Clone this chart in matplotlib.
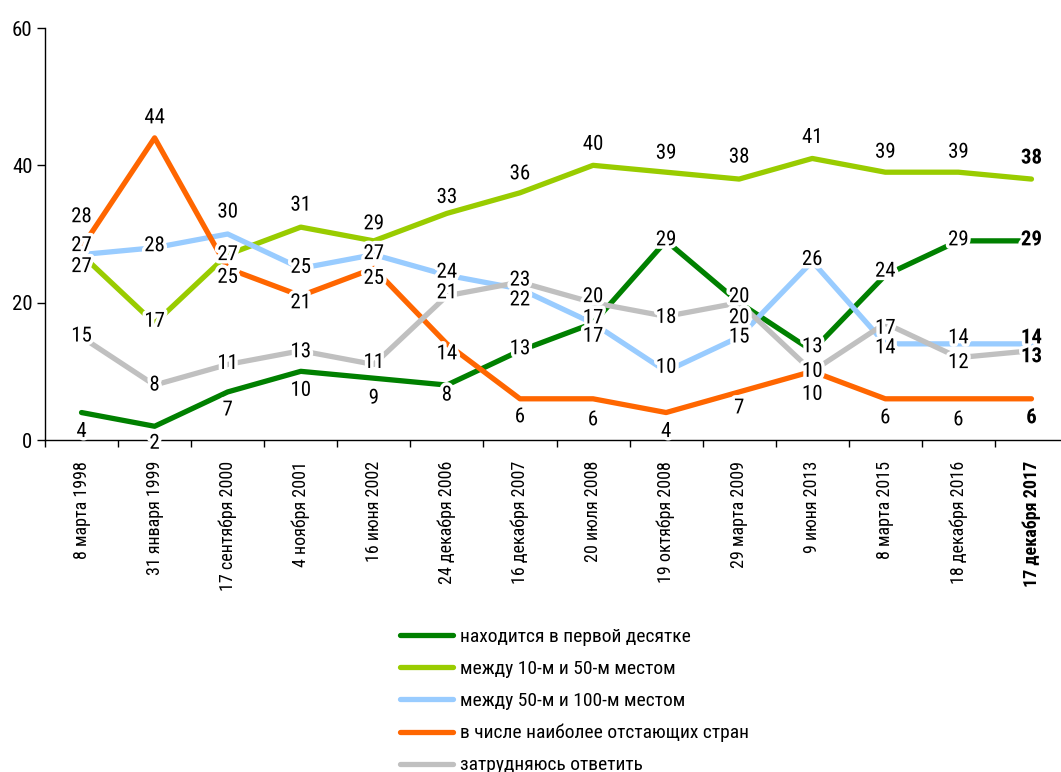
import matplotlib
matplotlib.use("Agg")
import matplotlib.pyplot as plt
import matplotlib.patheffects as pe
import numpy as np

NARROW = ['Liberation Sans Narrow', 'Roboto Condensed', 'Roboto', 'DejaVu Sans']

# survey dates
dates = ["8 марта 1998", "31 января 1999", "17 сентября 2000", "4 ноября 2001",
         "16 июня 2002", "24 декабря 2006", "16 декабря 2007", "20 июля 2008",
         "19 октября 2008", "29 марта 2009", "9 июня 2013", "8 марта 2015",
         "18 декабря 2016", "17 декабря 2017"]

top10 = [4, 2, 7, 10, 9, 8, 13, 17, 29, 20, 13, 24, 29, 29]
top10_50 = [27, 17, 27, 31, 29, 33, 36, 40, 39, 38, 41, 39, 39, 38]
top50_100 = [27, 28, 30, 25, 27, 24, 22, 17, 10, 15, 26, 14, 14, 14]
lagging = [28, 44, 25, 21, 25, 14, 6, 6, 4, 7, 10, 6, 6, 6]
unsure = [15, 8, 11, 13, 11, 21, 23, 20, 18, 20, 10, 17, 12, 13]

names = ["находится в первой десятке", "между 10-м и 50-м местом",
         "между 50-м и 100-м местом", "в числе наиболее отстающих стран",
         "затрудняюсь ответить"]
colors = ["#008000", "#99CC00", "#99CCFF", "#FF6600", "#C0C0C0"]

# vertical label offsets in pixels (positive = up)
offsets = [
    [-19, -17, -18, -19, -20, -10, 2, 5, 1, 6, 4, 4, 1, 1],
    [-12, 2, 0, 22, 17, 16, 19, 21, 19, 22, 21, 20, 20, 21],
    [9, 2, 22, 1, 1, 3, -11, -13, 4, 0, 2, -4, 6, 6],
    [31, 20, -9, -7, -10, -10, -18, -21, -19, -16, -23, -19, -21, -19],
    [1, 0, 1, -1, 2, 3, 2, 6, -1, -15, 0, -5, -5, -6],
]

series = [top10, top10_50, top50_100, lagging, unsure]

fig = plt.figure(figsize=(10.61, 7.72), dpi=100)
ax = fig.add_axes([45 / 1061, 332 / 772, 1023 / 1061, 412 / 772])

x = np.arange(len(dates))
handles = []
for vals, c, name in zip(series, colors, names):
    h, = ax.plot(x, vals, color=c, lw=3.8, solid_capstyle='round',
                 solid_joinstyle='round', label=name)
    handles.append(h)

halo = [pe.withStroke(linewidth=5, foreground='white')]
for vals, offs in zip(series, offsets):
    for i, (v, o) in enumerate(zip(vals, offs)):
        ax.annotate(str(v), (x[i], v), xytext=(0, o), textcoords='offset pixels',
                    ha='center', va='center', fontsize=15, family=NARROW,
                    fontweight='bold' if i == len(vals) - 1 else 'normal',
                    path_effects=halo, zorder=5, annotation_clip=False)

ax.set_xlim(-0.5, len(dates) - 0.5)
ax.set_ylim(0, 60)
ax.set_yticks([0, 20, 40, 60])
for lab in ax.get_yticklabels():
    lab.set_family(NARROW)
    lab.set_fontsize(15)
ax.tick_params(axis='y', length=6, width=1, pad=3)

ax.set_xticks(x)
ax.set_xticklabels(dates, rotation=90, fontsize=13, family=NARROW,
                   va='top', ha='center')
ax.get_xticklabels()[-1].set_fontweight('bold')
ax.set_xticks(np.arange(len(dates) + 1) - 0.5, minor=True)
ax.tick_params(axis='x', which='major', length=0, pad=15)
ax.tick_params(axis='x', which='minor', length=5, width=1)

for s in ['top', 'right']:
    ax.spines[s].set_visible(False)
for s in ['left', 'bottom']:
    ax.spines[s].set_linewidth(1)

fig.legend(handles=handles, loc='upper left', bbox_to_anchor=(400 / 1061, 144 / 772),
           frameon=False, prop={'family': NARROW, 'size': 14},
           borderpad=0, borderaxespad=0, handlelength=2.7, handletextpad=0.4,
           labelspacing=0.72)

fig.savefig("out.png", dpi=100)
